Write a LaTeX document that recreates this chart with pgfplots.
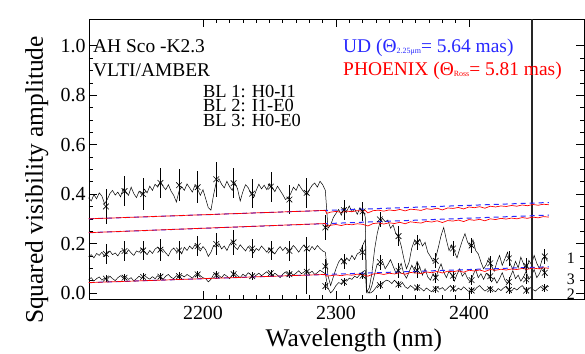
\documentclass[border=0pt]{standalone}
\usepackage{pgfplots}
\pgfplotsset{compat=1.18}
\usepackage{pgfplotstable}
\usepackage{fontspec}
\setmainfont{Liberation Serif}
\definecolor{udblue}{RGB}{40,40,255}
\definecolor{phred}{RGB}{255,0,0}

\pgfplotstableread{
x y
2114 0.385
2116 0.372
2118 0.398
2120 0.381
2122 0.405
2124 0.392
2126 0.361
2128 0.378
2130 0.402
2132 0.415
2134 0.396
2136 0.408
2138 0.389
2140 0.421
2142 0.410
2144 0.395
2146 0.428
2148 0.402
2150 0.386
2152 0.412
2154 0.398
2156 0.420
2158 0.405
2160 0.432
2162 0.415
2164 0.440
2166 0.428
2168 0.452
2170 0.431
2172 0.418
2174 0.438
2176 0.412
2178 0.395
2180 0.368
2182 0.412
2184 0.430
2186 0.415
2188 0.441
2190 0.425
2192 0.408
2194 0.436
2196 0.420
2198 0.395
2200 0.418
2202 0.382
2204 0.345
2206 0.335
2208 0.398
2210 0.448
2212 0.462
2214 0.440
2216 0.425
2218 0.452
2220 0.430
2222 0.415
2224 0.445
2226 0.421
2228 0.372
2230 0.410
2232 0.438
2234 0.426
2236 0.402
2238 0.385
2240 0.415
2242 0.440
2244 0.421
2246 0.436
2248 0.418
2250 0.442
2252 0.428
2254 0.410
2256 0.432
2258 0.415
2260 0.398
2262 0.378
2264 0.385
2266 0.402
2268 0.428
2270 0.415
2272 0.440
2274 0.422
2276 0.408
2278 0.395
2280 0.418
2282 0.435
2284 0.445
2286 0.428
2288 0.452
2290 0.438
2292 0.415
2294 0.262
2296 0.275
2298 0.305
2300 0.322
2302 0.338
2304 0.315
2306 0.345
2308 0.330
2310 0.352
2312 0.328
2314 0.340
2316 0.318
2318 0.345
2320 0.332
2322 0.310
2323 0.005
2325 0.020
2327 0.080
2329 0.175
2331 0.240
2333 0.285
2335 0.302
2337 0.288
2339 0.295
2341 0.262
2343 0.275
2345 0.240
2347 0.228
2349 0.192
2351 0.140
2353 0.098
2355 0.125
2357 0.182
2359 0.212
2361 0.198
2363 0.218
2365 0.190
2367 0.205
2369 0.165
2371 0.148
2373 0.128
2375 0.142
2377 0.185
2379 0.232
2381 0.265
2383 0.215
2385 0.172
2387 0.195
2389 0.168
2391 0.142
2393 0.178
2395 0.212
2397 0.240
2399 0.205
2401 0.188
2403 0.215
2405 0.172
2407 0.158
2409 0.125
2411 0.098
2413 0.115
2415 0.142
2417 0.108
2419 0.088
2421 0.125
2423 0.152
2425 0.112
2427 0.138
2429 0.165
2431 0.118
2433 0.095
2435 0.128
2437 0.102
2439 0.145
2441 0.118
2443 0.088
2445 0.132
2447 0.115
2449 0.152
2451 0.120
2453 0.098
2455 0.135
2457 0.148
2459 0.128
}\serA

\pgfplotstableread{
x y
2114 0.148
2116 0.155
2118 0.142
2120 0.160
2122 0.152
2124 0.165
2126 0.148
2128 0.158
2130 0.170
2132 0.155
2134 0.162
2136 0.150
2138 0.168
2140 0.172
2142 0.158
2144 0.175
2146 0.162
2148 0.152
2150 0.170
2152 0.165
2154 0.180
2156 0.168
2158 0.155
2160 0.172
2162 0.160
2164 0.178
2166 0.185
2168 0.170
2170 0.176
2172 0.162
2174 0.150
2176 0.172
2178 0.182
2180 0.168
2182 0.175
2184 0.158
2186 0.185
2188 0.172
2190 0.190
2192 0.178
2194 0.195
2196 0.182
2198 0.170
2200 0.188
2202 0.175
2204 0.148
2206 0.165
2208 0.192
2210 0.185
2212 0.200
2214 0.178
2216 0.190
2218 0.172
2220 0.195
2222 0.210
2224 0.185
2226 0.176
2228 0.195
2230 0.182
2232 0.170
2234 0.188
2236 0.175
2238 0.162
2240 0.180
2242 0.172
2244 0.190
2246 0.178
2248 0.165
2250 0.182
2252 0.170
2254 0.158
2256 0.175
2258 0.188
2260 0.172
2262 0.185
2264 0.168
2266 0.178
2268 0.192
2270 0.180
2272 0.165
2274 0.182
2276 0.195
2278 0.178
2280 0.170
2282 0.188
2284 0.175
2286 0.192
2288 0.180
2290 0.170
2292 0.165
2294 0.070
2296 0.030
2298 0.065
2300 0.098
2302 0.125
2304 0.140
2306 0.118
2308 0.142
2310 0.130
2312 0.152
2314 0.135
2316 0.158
2318 0.165
2320 0.192
2322 0.215
2323 0.010
2325 0.000
2327 0.030
2329 0.075
2331 0.118
2333 0.110
2335 0.128
2337 0.098
2339 0.115
2341 0.135
2343 0.108
2345 0.082
2347 0.095
2349 0.120
2351 0.078
2353 0.060
2355 0.085
2357 0.112
2359 0.090
2361 0.128
2363 0.105
2365 0.072
2367 0.098
2369 0.065
2371 0.052
2373 0.078
2375 0.060
2377 0.092
2379 0.118
2381 0.085
2383 0.062
2385 0.088
2387 0.072
2389 0.048
2391 0.075
2393 0.098
2395 0.068
2397 0.082
2399 0.058
2401 0.045
2403 0.072
2405 0.095
2407 0.062
2409 0.078
2411 0.055
2413 0.080
2415 0.068
2417 0.045
2419 0.062
2421 0.040
2423 0.058
2425 0.082
2427 0.052
2429 0.038
2431 0.065
2433 0.090
2435 0.058
2437 0.072
2439 0.048
2441 0.065
2443 0.088
2445 0.055
2447 0.070
2449 0.095
2451 0.062
2453 0.078
2455 0.105
2457 0.082
2459 0.070
}\serB

\pgfplotstableread{
x y
2114 0.055
2116 0.062
2118 0.048
2120 0.058
2122 0.065
2124 0.052
2126 0.060
2128 0.055
2130 0.068
2132 0.058
2134 0.050
2136 0.062
2138 0.070
2140 0.060
2142 0.066
2144 0.055
2146 0.062
2148 0.048
2150 0.058
2152 0.068
2154 0.060
2156 0.072
2158 0.062
2160 0.056
2162 0.066
2164 0.058
2166 0.070
2168 0.062
2170 0.055
2172 0.068
2174 0.075
2176 0.063
2178 0.058
2180 0.070
2182 0.062
2184 0.072
2186 0.065
2188 0.075
2190 0.068
2192 0.060
2194 0.072
2196 0.080
2198 0.070
2200 0.062
2202 0.058
2204 0.045
2206 0.055
2208 0.075
2210 0.082
2212 0.070
2214 0.062
2216 0.075
2218 0.068
2220 0.058
2222 0.072
2224 0.080
2226 0.070
2228 0.062
2230 0.076
2232 0.068
2234 0.082
2236 0.074
2238 0.062
2240 0.072
2242 0.080
2244 0.070
2246 0.078
2248 0.086
2250 0.075
2252 0.068
2254 0.080
2256 0.072
2258 0.062
2260 0.076
2262 0.085
2264 0.074
2266 0.082
2268 0.072
2270 0.080
2272 0.090
2274 0.078
2276 0.085
2278 0.092
2280 0.080
2282 0.088
2284 0.075
2286 0.082
2288 0.092
2290 0.085
2292 0.078
2294 0.020
2296 0.000
2298 0.012
2300 0.030
2302 0.042
2304 0.038
2306 0.052
2308 0.048
2310 0.060
2312 0.055
2314 0.068
2316 0.062
2318 0.075
2320 0.085
2322 0.092
2323 0.000
2326 0.000
2328 0.008
2330 0.022
2332 0.035
2334 0.028
2336 0.045
2338 0.052
2340 0.048
2342 0.038
2344 0.052
2346 0.040
2348 0.030
2350 0.042
2352 0.025
2354 0.018
2356 0.030
2358 0.022
2360 0.012
2362 0.025
2364 0.018
2366 0.008
2368 0.020
2370 0.012
2372 0.005
2374 0.018
2376 0.026
2378 0.015
2380 0.022
2382 0.010
2384 0.020
2386 0.030
2388 0.018
2390 0.008
2392 0.020
2394 0.012
2396 0.025
2398 0.015
2400 0.006
2402 0.018
2404 0.010
2406 0.022
2408 0.030
2410 0.018
2412 0.008
2414 0.015
2416 0.025
2418 0.012
2420 0.005
2422 0.018
2424 0.010
2426 0.020
2428 0.028
2430 0.015
2432 0.008
2434 0.020
2436 0.012
2438 0.022
2440 0.030
2442 0.018
2444 0.010
2446 0.022
2448 0.014
2450 0.008
2452 0.018
2454 0.026
2456 0.015
2458 0.022
2460 0.028
}\serC

\pgfplotstableread{
x y e
2127 0.350 0.070
2141 0.412 0.060
2155 0.400 0.065
2168 0.445 0.060
2182 0.436 0.065
2196 0.428 0.065
2210 0.460 0.070
2223 0.444 0.060
2237 0.402 0.060
2251 0.430 0.060
2265 0.378 0.060
2278 0.405 0.060
2292 0.265 0.050
2306 0.335 0.040
2320 0.330 0.040
2333 0.298 0.030
2347 0.230 0.040
2361 0.205 0.030
2375 0.130 0.030
2388 0.180 0.030
2402 0.192 0.030
2416 0.120 0.030
2430 0.140 0.030
2443 0.110 0.030
2457 0.148 0.030
}\mkA

\pgfplotstableread{
x y e
2127 0.158 0.040
2141 0.170 0.040
2155 0.172 0.040
2168 0.175 0.045
2182 0.172 0.040
2196 0.190 0.040
2210 0.198 0.045
2223 0.205 0.050
2237 0.180 0.040
2251 0.172 0.040
2265 0.170 0.040
2278 0.180 0.045
2292 0.108 0.030
2306 0.128 0.030
2320 0.165 0.030
2333 0.125 0.030
2347 0.090 0.030
2361 0.092 0.030
2375 0.062 0.020
2388 0.070 0.020
2402 0.052 0.020
2416 0.068 0.020
2430 0.045 0.020
2443 0.055 0.020
2457 0.082 0.020
}\mkB

\pgfplotstableread{
x y e
2127 0.058 0.015
2141 0.062 0.015
2155 0.065 0.015
2168 0.066 0.015
2182 0.068 0.015
2196 0.075 0.015
2210 0.072 0.015
2223 0.076 0.015
2237 0.068 0.015
2251 0.080 0.015
2265 0.076 0.015
2278 0.086 0.090
2292 0.028 0.015
2306 0.045 0.015
2320 0.070 0.015
2333 0.032 0.015
2347 0.035 0.015
2361 0.022 0.015
2375 0.015 0.015
2388 0.018 0.015
2402 0.010 0.015
2416 0.015 0.015
2430 0.012 0.015
2443 0.010 0.015
2457 0.020 0.015
}\mkC

\pgfplotstableread{
x y
2114 0.300
2292 0.334
2293 0.322
2296 0.327
2300 0.330
2304 0.326
2308 0.331
2312 0.329
2316 0.333
2320 0.331
2322 0.334
2324 0.324
2328 0.333
2332 0.335
2336 0.331
2340 0.336
2344 0.333
2348 0.338
2352 0.332
2356 0.339
2360 0.337
2364 0.334
2368 0.341
2372 0.338
2376 0.343
2380 0.336
2384 0.344
2388 0.342
2392 0.346
2396 0.340
2400 0.348
2404 0.345
2408 0.349
2412 0.343
2416 0.351
2420 0.348
2424 0.352
2428 0.350
2432 0.354
2436 0.351
2440 0.356
2444 0.353
2448 0.358
2452 0.355
2456 0.359
2460 0.357
}\phA

\pgfplotstableread{
x y
2114 0.244
2292 0.281
2293 0.270
2296 0.274
2300 0.277
2304 0.273
2308 0.278
2312 0.276
2316 0.280
2320 0.278
2324 0.271
2328 0.281
2332 0.283
2336 0.279
2340 0.284
2344 0.281
2348 0.286
2352 0.280
2356 0.288
2360 0.285
2364 0.283
2368 0.290
2372 0.287
2376 0.292
2380 0.285
2384 0.293
2388 0.291
2392 0.295
2396 0.289
2400 0.297
2404 0.294
2408 0.298
2412 0.292
2416 0.300
2420 0.297
2424 0.302
2428 0.299
2432 0.303
2436 0.300
2440 0.305
2444 0.302
2448 0.307
2452 0.304
2456 0.309
2460 0.307
}\phB

\pgfplotstableread{
x y
2114 0.042
2292 0.075
2293 0.068
2296 0.070
2300 0.073
2304 0.070
2308 0.074
2312 0.072
2316 0.076
2320 0.074
2324 0.068
2328 0.077
2332 0.079
2336 0.075
2340 0.080
2344 0.077
2348 0.082
2352 0.076
2356 0.083
2360 0.081
2364 0.079
2368 0.085
2372 0.082
2376 0.087
2380 0.081
2384 0.088
2388 0.086
2392 0.090
2396 0.084
2400 0.092
2404 0.089
2408 0.093
2412 0.087
2416 0.095
2420 0.092
2424 0.096
2428 0.093
2432 0.097
2436 0.095
2440 0.099
2444 0.096
2448 0.101
2452 0.098
2456 0.102
2460 0.100
}\phC

\begin{document}
\begin{tikzpicture}
\path[use as bounding box] (-89bp,-54.7bp) rectangle (496bp,299.3bp);
\begin{axis}[
  at={(0,0)}, anchor=south west,
  scale only axis, width=495bp, height=280bp,
  xmin=2114.3, xmax=2486.5,
  ymin=-0.0255, ymax=1.107,
  xtick={2200,2300,2400},
  ytick={0,0.2,0.4,0.6,0.8,1.0},
  minor x tick num=9,
  minor y tick num=3,
  tick align=inside,
  major tick length=8bp,
  minor tick length=4bp,
  axis line style={line width=0.8pt},
  every tick/.style={black, line width=0.6pt},
  tick label style={font=\fontsize{20}{24}\selectfont},
  /pgf/number format/assume math mode=true,
  xticklabel style={/pgf/number format/set thousands separator={}, yshift=-3bp},
  yticklabel style={/pgf/number format/.cd, fixed, fixed zerofill, precision=1},
  xlabel={Wavelength (nm)},
  ylabel={Squared visibility amplitude},
  xlabel style={font=\fontsize{25.5}{26}\selectfont, at={(axis description cs:0.535,-0.168)}, anchor=base},
  ylabel style={font=\fontsize{25.5}{26}\selectfont, at={(axis description cs:-0.093,0.426)}, anchor=base, rotate=0},
  clip=false,
]
% data series
\addplot[black, line width=0.5pt] table[x=x,y=y] {\serA};
\addplot[black, line width=0.5pt] table[x=x,y=y] {\serB};
\addplot[black, line width=0.5pt] table[x=x,y=y] {\serC};
\addplot[only marks, mark=x, mark size=4bp, black, mark options={line width=0.6pt},
  error bars/.cd, y dir=both, y explicit, error mark=none, error bar style={black, line width=0.6pt}]
  table[x=x,y=y,y error=e] {\mkA};
\addplot[only marks, mark=x, mark size=4bp, black, mark options={line width=0.6pt},
  error bars/.cd, y dir=both, y explicit, error mark=none, error bar style={black, line width=0.6pt}]
  table[x=x,y=y,y error=e] {\mkB};
\addplot[only marks, mark=x, mark size=4bp, black, mark options={line width=0.6pt},
  error bars/.cd, y dir=both, y explicit, error mark=none, error bar style={black, line width=0.6pt}]
  table[x=x,y=y,y error=e] {\mkC};
% spike
\addplot[black!85, line width=1.6pt] coordinates {(2447.4,-0.0255) (2447.4,1.107)};
% UD models
\addplot[udblue, line width=1pt, dash pattern=on 5bp off 4bp] coordinates {(2114.3,0.300) (2460,0.366)};
\addplot[udblue, line width=1pt, dash pattern=on 5bp off 4bp] coordinates {(2114.3,0.244) (2460,0.315)};
\addplot[udblue, line width=1pt, dash pattern=on 5bp off 4bp] coordinates {(2114.3,0.042) (2460,0.106)};
% PHOENIX models
\addplot[phred, line width=0.7pt] table[x=x,y=y] {\phA};
\addplot[phred, line width=0.7pt] table[x=x,y=y] {\phB};
\addplot[phred, line width=0.7pt] table[x=x,y=y] {\phC};
% annotations
\node[anchor=base west, inner sep=0pt, font=\fontsize{19.5}{20}\selectfont] at (axis cs:2117.3,0.9745) {AH Sco -K2.3};
\node[anchor=base west, inner sep=0pt, font=\fontsize{19.5}{20}\selectfont] at (axis cs:2117.3,0.877) {VLTI/AMBER};
\node[anchor=north west, inner sep=0pt, align=left, font=\fontsize{18.5}{14.6}\selectfont] at (axis cs:2200,0.842) {BL 1: H0-I1\\BL 2: I1-E0\\BL 3: H0-E0};
\node[anchor=base west, inner sep=0pt, text=udblue, font=\fontsize{19.5}{20}\selectfont] at (axis cs:2305.3,0.9745) {UD (Θ\raisebox{-1.5bp}{\fontsize{8}{8}\selectfont 2.25μm}= 5.64 mas)};
\node[anchor=base west, inner sep=0pt, text=phred, font=\fontsize{19.5}{20}\selectfont] at (axis cs:2305.3,0.8815) {PHOENIX (Θ\raisebox{-1.5bp}{\fontsize{8}{8}\selectfont Ross}= 5.81 mas)};
\node[inner sep=0pt, font=\fontsize{16}{16}\selectfont] at (axis cs:2476.7,0.1415) {1};
\node[inner sep=0pt, font=\fontsize{16}{16}\selectfont] at (axis cs:2476.7,0.0566) {3};
\node[inner sep=0pt, font=\fontsize{16}{16}\selectfont] at (axis cs:2476.7,-0.004) {2};
\end{axis}
\end{tikzpicture}
\end{document}
